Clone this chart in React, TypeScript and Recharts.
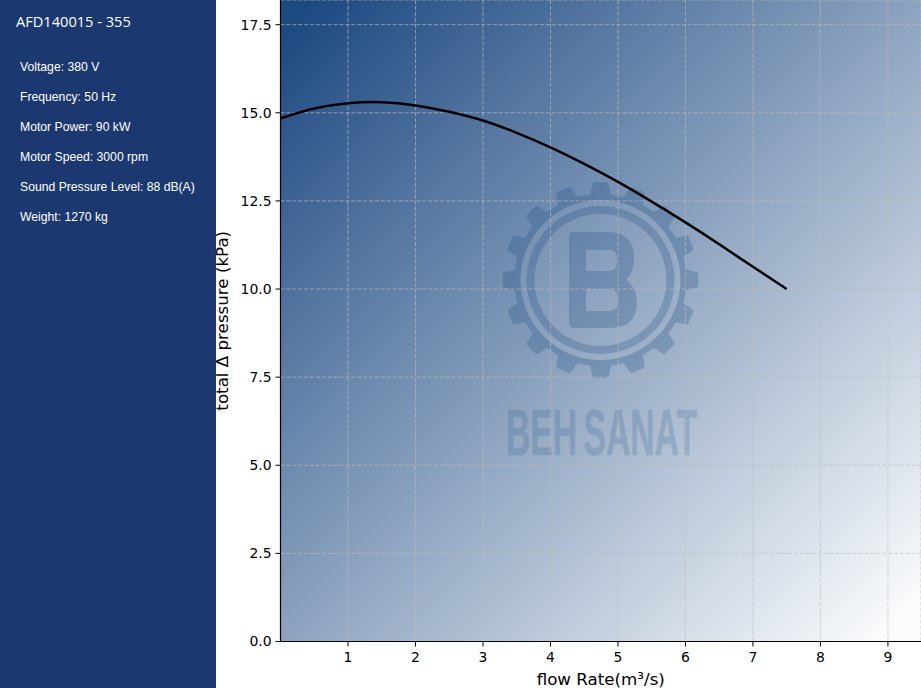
import { ComposedChart, Line, XAxis, YAxis, CartesianGrid } from 'recharts';

const title = 'AFD140015 - 355';
const specs = [
  'Voltage: 380 V',
  'Frequency: 50 Hz',
  'Motor Power: 90 kW',
  'Motor Speed: 3000 rpm',
  'Sound Pressure Level: 88 dB(A)',
  'Weight: 1270 kg',
];

const flowRates = [0, 0.5, 1, 1.5, 2, 2.5, 3, 3.5, 4, 4.5, 5, 5.5, 6, 6.5, 7, 7.5];
const pressures = [14.84, 15.12, 15.27, 15.3, 15.21, 15.03, 14.78, 14.43, 14.02, 13.55, 13.04, 12.48, 11.89, 11.27, 10.63, 10.0];
const xTicks = [1, 2, 3, 4, 5, 6, 7, 8, 9];
const yTicks = [0, 2.5, 5, 7.5, 10, 12.5, 15, 17.5];

const data = flowRates.map((x, i) => ({ x, y: pressures[i] }));

const WIDTH = 921;
const HEIGHT = 688;
const PLOT_LEFT = 280.5;
const PLOT_BOTTOM = 641;
const axisFont = 'DejaVu Sans';
const tickStyle = { fontSize: 13.9, fontFamily: axisFont, fill: '#000' };

// watermark gear outline, 16 teeth around the logo centre
function gearPath(cx: number, cy: number) {
  const teeth = 16;
  const parts: string[] = [];
  for (let i = 0; i < teeth; i++) {
    const a = (i / teeth) * Math.PI * 2 - Math.PI / 2;
    const step = (Math.PI * 2) / teeth;
    const pts: [number, number][] = [
      [a - step * 0.25, 84],
      [a - step * 0.15, 95.5],
      [a + step * 0.15, 95.5],
      [a + step * 0.25, 84],
    ];
    for (const [t, r] of pts) {
      parts.push(`${parts.length ? 'L' : 'M'}${cx + r * Math.cos(t)},${cy + r * Math.sin(t)}`);
    }
  }
  return parts.join(' ') + ' Z';
}

function circlePath(cx: number, cy: number, r: number) {
  return `M${cx - r},${cy} a${r},${r} 0 1,0 ${r * 2},0 a${r},${r} 0 1,0 ${-r * 2},0 Z`;
}

const LOGO_X = 600.5;
const LOGO_Y = 280;
const letterB =
  'M569,237 Q569,232 574,232 L608,232 Q634,232 634,258 Q634,272 626,280 Q637,288 637,302 Q637,328 610,328 L574,328 Q569,328 569,323 Z ' +
  'M586,250 L586,271 L610,271 Q617,271 617,260 Q617,250 610,250 Z ' +
  'M586,289 L586,311 L610,311 Q618,311 618,300 Q618,289 610,289 Z';

function PlotBackground() {
  return (
    <svg width={WIDTH} height={HEIGHT} style={{ position: 'absolute', left: 0, top: 0 }}>
      <defs>
        <linearGradient id="plotGrad" x1="0" y1="0" x2="1" y2="1">
          <stop offset="3%" stopColor="#1e4a82" />
          <stop offset="97%" stopColor="#fbfcfd" />
        </linearGradient>
      </defs>
      <rect x={PLOT_LEFT} y={0} width={WIDTH - PLOT_LEFT} height={PLOT_BOTTOM} fill="url(#plotGrad)" />
      <circle cx={LOGO_X} cy={LOGO_Y} r={80} fill="#ffffff" opacity={0.06} />
      <g fill="#1c4a80" opacity={0.25}>
        <path
          d={gearPath(LOGO_X, LOGO_Y) + ' ' + circlePath(LOGO_X, LOGO_Y, 82.5)}
          fillRule="evenodd"
          stroke="#1c4a80"
          strokeWidth={5}
          strokeLinejoin="round"
        />
        <path d={circlePath(LOGO_X, LOGO_Y, 74) + ' ' + circlePath(LOGO_X, LOGO_Y, 66)} fillRule="evenodd" />
        <path d={letterB} fillRule="evenodd" />
      </g>
      <text
        x={506}
        y={455}
        fill="#1c4a80"
        opacity={0.18}
        fontFamily="Liberation Sans"
        fontWeight={700}
        fontSize={65}
        stroke="#1c4a80"
        strokeWidth={0.6}
        wordSpacing={-6}
        textLength={191}
        lengthAdjust="spacingAndGlyphs"
      >
        BEH SANAT
      </text>
    </svg>
  );
}

export default function App() {
  return (
    <div style={{ position: 'absolute', left: 0, top: 0, width: WIDTH, height: HEIGHT, overflow: 'hidden', background: '#fff' }}>
      <PlotBackground />
      <div style={{ position: 'absolute', left: 0, top: 0, width: 216, height: HEIGHT, background: '#1b3870', color: '#fff' }}>
        <div style={{ position: 'absolute', left: 16, top: 11, fontFamily: 'Open Sans', fontSize: 14.6, lineHeight: '20px', whiteSpace: 'nowrap' }}>
          {title}
        </div>
        {specs.map((s, i) => (
          <div
            key={s}
            style={{ position: 'absolute', left: 20, top: 60 + i * 30, fontFamily: 'Liberation Sans', fontSize: 12.2, lineHeight: '14px', whiteSpace: 'nowrap' }}
          >
            {s}
          </div>
        ))}
      </div>
      <div style={{ position: 'absolute', left: 0, top: 0 }}>
        <ComposedChart width={WIDTH} height={HEIGHT} data={data} margin={{ top: 0, right: 0, bottom: 0, left: 216 }}>
          <CartesianGrid stroke="#bdbdbd" strokeOpacity={0.65} strokeDasharray="4.1 1.8" />
          <XAxis
            dataKey="x"
            type="number"
            domain={[0, 9.49]}
            ticks={xTicks}
            height={46.5}
            tick={tickStyle}
            tickSize={5}
            tickMargin={6}
            tickLine={{ stroke: '#000', strokeWidth: 1 }}
            axisLine={{ stroke: '#000', strokeWidth: 1.2 }}
            label={{ value: 'flow Rate(m³/s)', position: 'insideBottom', offset: 0, dy: -3, style: { fontSize: 16.7, fontFamily: axisFont, fill: '#000' } }}
          />
          <YAxis
            type="number"
            domain={[0, 18.2]}
            ticks={yTicks}
            width={64.5}
            tick={tickStyle}
            tickSize={5}
            tickMargin={4}
            tickFormatter={(v: number) => v.toFixed(1)}
            tickLine={{ stroke: '#000', strokeWidth: 1 }}
            axisLine={{ stroke: '#000', strokeWidth: 1.2 }}
            label={{ value: 'total Δ pressure (kPa)', angle: -90, position: 'insideLeft', offset: 0, dx: 6, style: { fontSize: 16.7, fontFamily: axisFont, fill: '#000', textAnchor: 'middle' } }}
          />
          <Line dataKey="y" type="natural" stroke="#000" strokeWidth={2.5} dot={false} isAnimationActive={false} />
        </ComposedChart>
      </div>
    </div>
  );
}
